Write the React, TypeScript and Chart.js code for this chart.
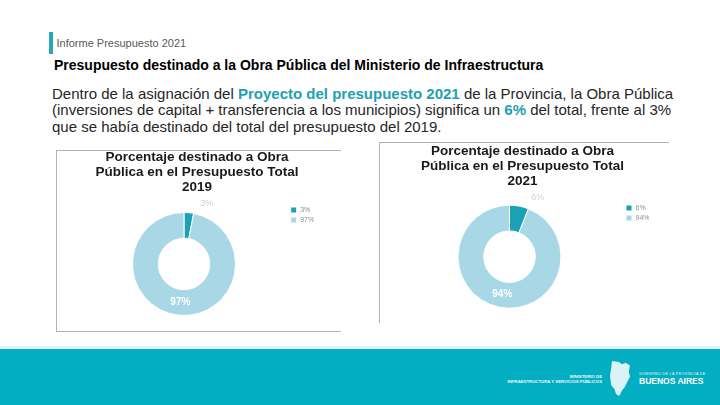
import React, { useEffect, useRef } from 'react';
import { Chart, registerables } from 'chart.js';

Chart.register(...registerables);

// ---- data ----
const labels2019 = ['3%', '97%'];
const values2019 = [3, 97];
const labels2021 = ['6%', '94%'];
const values2021 = [6, 94];
const title2019 = ['Porcentaje destinado a Obra', 'Pública en el Presupuesto Total', '2019'];
const title2021 = ['Porcentaje destinado a Obra', 'Pública en el Presupuesto Total', '2021'];
const sliceColors = ['#1BA1B6', '#A8D8E5'];
const sliceLabelColors = ['#D2D2D2', '#FFFFFF'];
const sliceLabelInside = [false, true];

const FONT = "'Liberation Sans', Arial, Helvetica, sans-serif";

const sliceLabelPlugin = {
  id: 'sliceLabels',
  afterDatasetsDraw(chart: any) {
    const meta = chart.getDatasetMeta(0);
    const ctx = chart.ctx;
    const labels = chart.data.labels as string[];
    meta.data.forEach((arc: any, i: number) => {
      const p = arc.getProps(['x', 'y', 'startAngle', 'endAngle', 'innerRadius', 'outerRadius'], true);
      const mid = (p.startAngle + p.endAngle) / 2;
      const inside = sliceLabelInside[i];
      const r = inside ? (p.innerRadius + p.outerRadius) / 2 : p.outerRadius + 9;
      const px = p.x + Math.cos(mid) * r + (inside ? 0 : 17);
      const py = p.y + Math.sin(mid) * r;
      ctx.save();
      ctx.font = inside ? `bold 10px ${FONT}` : `9px ${FONT}`;
      ctx.fillStyle = sliceLabelColors[i];
      ctx.textAlign = 'center';
      ctx.textBaseline = 'middle';
      ctx.fillText(labels[i], px, py);
      ctx.restore();
    });
  },
};

function makeConfig(labels: string[], values: number[], title: string[], pad: any, titlePad: any): any {
  return {
    type: 'doughnut',
    data: {
      labels,
      datasets: [
        {
          data: values,
          backgroundColor: sliceColors,
          borderColor: '#FFFFFF',
          borderWidth: 1,
          radius: 51.5,
          cutout: '50%',
        },
      ],
    },
    options: {
      responsive: false,
      animation: false,
      radius: 51.5,
      cutout: '50%',
      layout: { padding: pad },
      plugins: {
        title: {
          display: true,
          text: title,
          color: '#1A1A1A',
          font: { family: FONT, size: 13.5, weight: 'bold', lineHeight: 15 / 13.5 },
          padding: titlePad,
        },
        legend: {
          display: true,
          position: 'right',
          align: 'start',
          fullSize: false,
          maxWidth: 26,
          labels: {
            boxWidth: 6,
            boxHeight: 6,
            padding: 3,
            color: '#8C8C8C',
            font: { family: FONT, size: 7 },
          },
        },
        tooltip: { enabled: false },
      },
    },
    plugins: [sliceLabelPlugin],
  };
}

const abs = (s: React.CSSProperties): React.CSSProperties => ({ position: 'absolute', ...s });

export default function App() {
  const leftRef = useRef<HTMLCanvasElement>(null);
  const rightRef = useRef<HTMLCanvasElement>(null);

  useEffect(() => {
    document.body.style.margin = '0';
    const c1 = new Chart(
      leftRef.current as HTMLCanvasElement,
      makeConfig(labels2019, values2019, title2019, { left: 24.3, right: 27.3, top: 0, bottom: 7.5 }, { top: 0, bottom: 8.5 })
    );
    const c2 = new Chart(
      rightRef.current as HTMLCanvasElement,
      makeConfig(labels2021, values2021, title2021, { left: 17, right: 19, top: 0, bottom: 11.1 }, { top: 1.5, bottom: 13 })
    );
    return () => {
      c1.destroy();
      c2.destroy();
    };
  }, []);

  const border = '#A9B6BA';
  const teal = '#22A0B2';

  return (
    <div
      style={{
        position: 'fixed',
        left: 0,
        top: 0,
        width: 720,
        height: 405,
        background: '#FFFFFF',
        overflow: 'hidden',
        fontFamily: FONT,
      }}
    >
      {/* header */}
      <div style={abs({ left: 49, top: 32, width: 3.5, height: 22, background: '#27A8B7' })} />
      <div style={abs({ left: 56.5, top: 36.7, fontSize: 11, lineHeight: '13px', color: '#595959', whiteSpace: 'nowrap' })}>
        Informe Presupuesto 2021
      </div>
      <div style={abs({ left: 54, top: 56.8, fontSize: 14, lineHeight: '16px', fontWeight: 'bold', color: '#000', whiteSpace: 'nowrap' })}>
        Presupuesto destinado a la Obra Pública del Ministerio de Infraestructura
      </div>
      <div style={abs({ left: 52, top: 85.5, fontSize: 15, lineHeight: '16.5px', color: '#262626', whiteSpace: 'nowrap' })}>
        Dentro de la asignación del <b style={{ color: teal }}>Proyecto del presupuesto 2021</b> de la Provincia, la Obra Pública
        <br />
        (inversiones de capital + transferencia a los municipios) significa un <b style={{ color: teal }}>6%</b> del total, frente al 3%
        <br />
        que se había destinado del total del presupuesto del 2019.
      </div>

      {/* chart frames */}
      <div style={abs({ left: 56, top: 150, width: 285, height: 1, background: border })} />
      <div style={abs({ left: 56, top: 150, width: 1, height: 182, background: border })} />
      <div style={abs({ left: 56, top: 331, width: 285, height: 1, background: border })} />
      <div style={abs({ left: 379, top: 142, width: 290, height: 1, background: border })} />
      <div style={abs({ left: 379, top: 142, width: 1, height: 181, background: border })} />

      <canvas ref={leftRef} width={285} height={182} style={abs({ left: 56, top: 150, width: 285, height: 182 })} />
      <canvas ref={rightRef} width={289} height={181} style={abs({ left: 379, top: 142, width: 289, height: 181 })} />

      {/* footer */}
      <div style={abs({ left: 0, top: 346, width: 720, height: 3, background: '#DDF4F6' })} />
      <div style={abs({ left: 0, top: 349, width: 720, height: 56, background: '#04AEC2' })} />
      <div
        style={abs({
          right: 118,
          top: 374,
          textAlign: 'right',
          color: '#FFFFFF',
          fontSize: 4.3,
          lineHeight: '5px',
          fontWeight: 'bold',
          whiteSpace: 'nowrap',
          opacity: 0.92,
        })}
      >
        MINISTERIO DE
        <br />
        INFRAESTRUCTURA Y SERVICIOS PÚBLICOS
      </div>
      <div
        style={abs({
          left: 610,
          top: 361,
          width: 20,
          height: 35,
          background: 'rgba(255,255,255,0.85)',
          clipPath:
            'polygon(10% 0%, 45% 3%, 60% 9%, 78% 5%, 100% 13%, 94% 30%, 100% 45%, 86% 60%, 74% 74%, 60% 84%, 46% 100%, 30% 94%, 22% 80%, 6% 70%, 0% 42%, 6% 20%)',
        })}
      />
      <div style={abs({ left: 639, top: 371.5, color: '#FFFFFF', fontSize: 3.6, lineHeight: '4px', letterSpacing: '0.35px', whiteSpace: 'nowrap', opacity: 0.92 })}>
        GOBIERNO DE LA PROVINCIA DE
      </div>
      <div style={abs({ left: 639, top: 375.5, color: '#FFFFFF', fontSize: 8.5, lineHeight: '10px', fontWeight: 'bold', whiteSpace: 'nowrap' })}>
        BUENOS AIRES
      </div>
    </div>
  );
}
